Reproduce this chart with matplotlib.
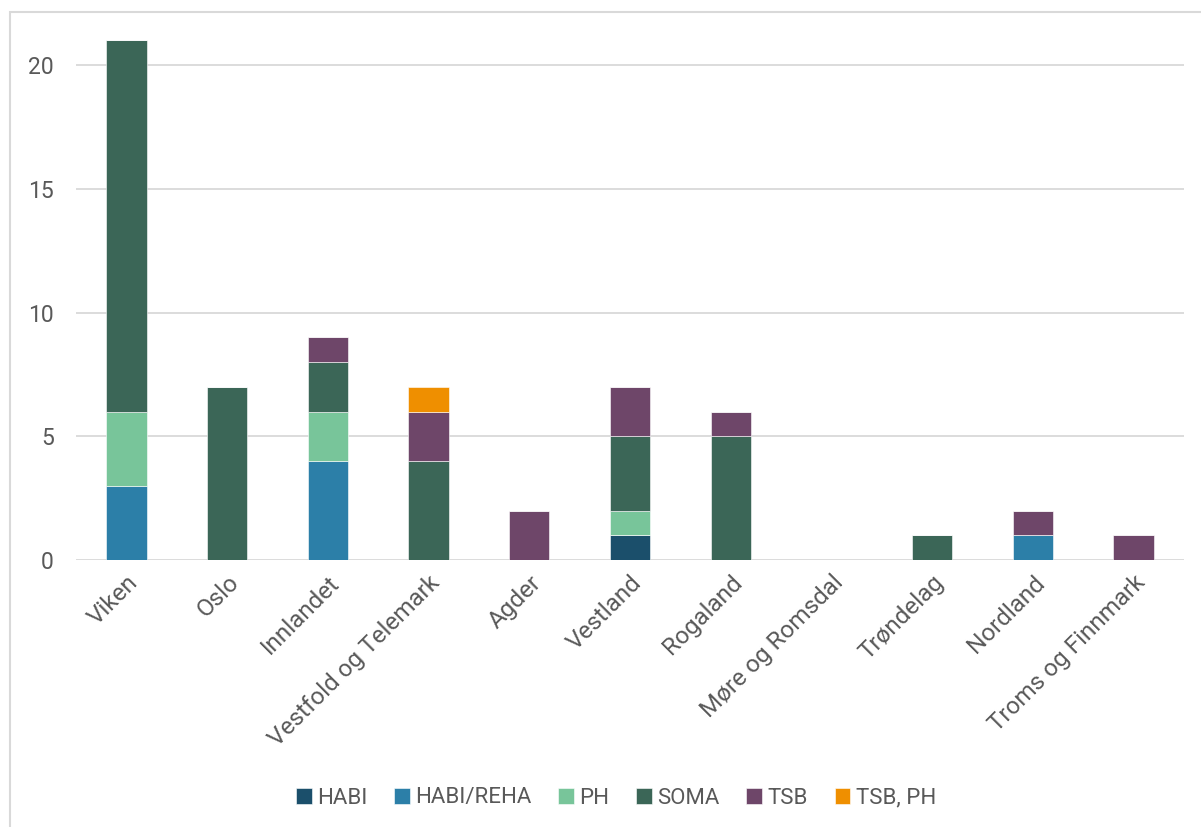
import matplotlib.pyplot as plt
import numpy as np
from matplotlib.patches import Rectangle

regions = ["Viken", "Oslo", "Innlandet", "Vestfold og Telemark", "Agder", "Vestland",
           "Rogaland", "Møre og Romsdal", "Trøndelag", "Nordland", "Troms og Finnmark"]

habi = [0, 0, 0, 0, 0, 1, 0, 0, 0, 0, 0]
habi_reha = [3, 0, 4, 0, 0, 0, 0, 0, 0, 1, 0]
ph = [3, 0, 2, 0, 0, 1, 0, 0, 0, 0, 0]
soma = [15, 7, 2, 4, 0, 3, 5, 0, 1, 0, 0]
tsb = [0, 0, 1, 2, 2, 2, 1, 0, 0, 1, 1]
tsb_ph = [0, 0, 0, 1, 0, 0, 0, 0, 0, 0, 0]

series = [("HABI", habi, "#1b4f6b"),
          ("HABI/REHA", habi_reha, "#2c7fa8"),
          ("PH", ph, "#78c59a"),
          ("SOMA", soma, "#3b6657"),
          ("TSB", tsb, "#6e4669"),
          ("TSB, PH", tsb_ph, "#ef8f00")]

plt.rcParams['font.family'] = ['Roboto', 'DejaVu Sans']
text_col = "#595959"

fig = plt.figure(figsize=(12.01, 8.27), dpi=100)
fig.patches.append(Rectangle((10 / 1201, -0.05), 1.2, 1 - 12 / 827 + 0.05,
                             transform=fig.transFigure, fill=False,
                             edgecolor="#d9d9d9", linewidth=1.5))
ax = fig.add_axes([76 / 1201, 1 - 560 / 827, (1184 - 76) / 1201, 532 / 827])

x = np.arange(len(regions))
bottom = np.zeros(len(regions))
for name, vals, col in series:
    vals = np.array(vals, dtype=float)
    ax.bar(x, vals, 0.4, bottom=bottom, color=col, label=name,
           edgecolor="white", linewidth=0.4, zorder=3)
    bottom += vals

ax.set_xlim(-0.5, len(regions) - 0.5)
ax.set_ylim(0, 21.5)
ax.set_yticks([0, 5, 10, 15, 20])
ax.yaxis.grid(True, color="#d9d9d9", linewidth=1.3, zorder=0)
for s in ax.spines.values():
    s.set_visible(False)
ax.tick_params(length=0, colors=text_col)
ax.tick_params(axis='y', pad=16, labelsize=16.5)
ax.set_xticks(x)
ax.set_xticklabels(regions, rotation=45, ha='right', rotation_mode='anchor')
ax.tick_params(axis='x', pad=8, labelsize=17.5)

leg = fig.legend(loc='center', bbox_to_anchor=(616 / 1201, 1 - 798 / 827), ncol=6,
                 frameon=False, fontsize=16, handlelength=0.7, handleheight=0.7,
                 handletextpad=0.25, columnspacing=1.2)
for t in leg.get_texts():
    t.set_color(text_col)

fig.savefig("out.png", dpi=100)
